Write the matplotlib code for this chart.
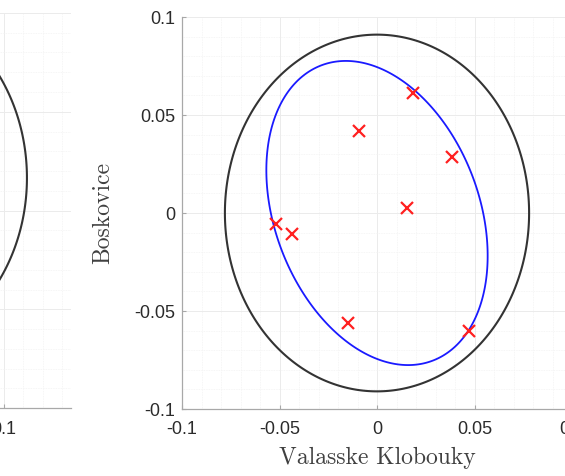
import numpy as np
import matplotlib
matplotlib.use("Agg")
import matplotlib.pyplot as plt
from matplotlib.ticker import MultipleLocator

# ---- data ----
x_points = [0.0187, -0.0091, 0.0386, 0.0156, -0.0520, -0.0434, -0.0150, 0.0473]
y_points = [0.0611, 0.0420, 0.0287, 0.0024, -0.0056, -0.0109, -0.0563, -0.0602]

black_center = [0.0, 0.0]
black_semi = [0.078, 0.091]          # horizontal, vertical semi-axes
blue_center = [0.0, 0.0]
blue_cov = [[0.00322, -0.00124], [-0.00124, 0.00602]]

left_center = [0.0338, 0.0165]
left_semi = [0.078, 0.090]

xticks = [-0.1, -0.05, 0, 0.05, 0.1]
yticks = [-0.1, -0.05, 0, 0.05, 0.1]
xtick_labels = ["-0.1", "-0.05", "0", "0.05", "0.1"]
ytick_labels = ["-0.1", "-0.05", "0", "0.05", "0.1"]
xlabel = "Valasske Klobouky"
ylabel = "Boskovice"

W, H = 565, 476
fig = plt.figure(figsize=(W / 100, H / 100), dpi=100)

t = np.linspace(0, 2 * np.pi, 500)
circ = np.vstack([np.cos(t), np.sin(t)])

spine_col = "#a8a8a8"
tick_col = "#2b2b2b"


def style(ax):
    for s in ["top", "right"]:
        ax.spines[s].set_visible(False)
    for s in ["left", "bottom"]:
        ax.spines[s].set_color(spine_col)
        ax.spines[s].set_linewidth(0.9)
    ax.xaxis.set_minor_locator(MultipleLocator(0.01))
    ax.yaxis.set_minor_locator(MultipleLocator(0.01))
    ax.grid(True, which="major", color="#ebebeb", linewidth=0.7)
    ax.grid(True, which="minor", color="#f3f3f3", linewidth=0.6, linestyle=(0, (1, 1)))
    ax.set_axisbelow(True)
    ax.tick_params(which="major", direction="in", length=3, color=spine_col,
                   labelcolor=tick_col, labelsize=13)
    ax.tick_params(which="minor", length=0)
    for lab in ax.get_xticklabels() + ax.get_yticklabels():
        lab.set_fontfamily("Liberation Sans")


# ---- left (partially visible) panel ----
axL = fig.add_axes([-386 / W, (H - 408) / H, 457 / W, 395 / H])
axL.set_xlim(-0.1, 0.1344)
axL.set_ylim(-0.1, 0.1)
axL.set_xticks(xticks[-1:])
axL.set_xticklabels(xtick_labels[-1:])
axL.set_yticks(yticks)
style(axL)
axL.tick_params(axis="y", labelleft=False)
axL.tick_params(axis="x", pad=9)
axL.fill(left_center[0] + left_semi[0] * circ[0],
         left_center[1] + left_semi[1] * circ[1], fill=False,
         edgecolor="#333333", lw=1.5)

# ---- right panel ----
ax = fig.add_axes([182 / W, (H - 409) / H, 390 / W, 392 / H])
ax.set_xlim(-0.1, 0.1)
ax.set_ylim(-0.1, 0.1)
ax.set_xticks(xticks)
ax.set_xticklabels(xtick_labels)
ax.set_yticks(yticks)
ax.set_yticklabels(ytick_labels)
style(ax)
ax.tick_params(axis="x", pad=9)
ax.tick_params(axis="y", pad=5)

ax.fill(black_center[0] + black_semi[0] * circ[0],
        black_center[1] + black_semi[1] * circ[1], fill=False,
        edgecolor="#333333", lw=1.5)
L = np.linalg.cholesky(np.array(blue_cov))
bp = L @ circ
ax.fill(blue_center[0] + bp[0], blue_center[1] + bp[1], fill=False,
        edgecolor="#1a1aff", lw=1.3)
ax.plot(x_points, y_points, linestyle="none", marker="x", color="#ff2020",
        markersize=8, markeredgewidth=1.6)

ax.set_xlabel(xlabel, fontfamily="cmr10", fontsize=17, color="#404040", labelpad=6)
ax.set_ylabel(ylabel, fontfamily="cmr10", fontsize=17, color="#404040", labelpad=14)

fig.savefig("out.png", dpi=100)
